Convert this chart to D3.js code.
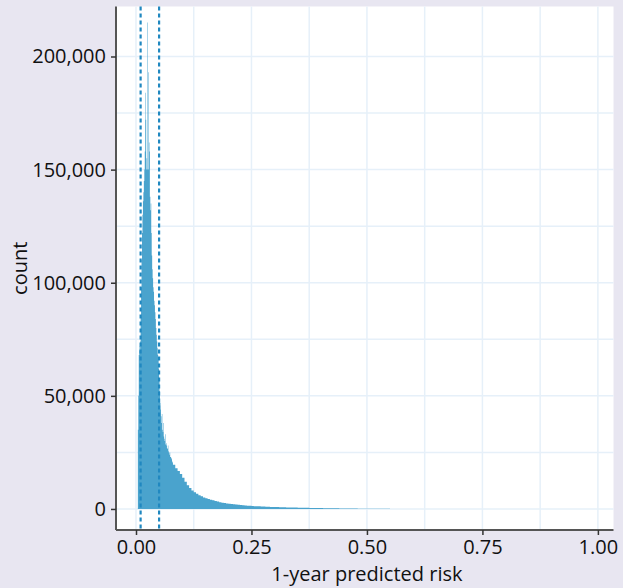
<!DOCTYPE html>
<html>
<meta charset="utf-8">
<style>
  body { margin: 0; background: #e8e6f1; }
  svg { display: block; font-family: "Open Sans", "Noto Sans", sans-serif; }
</style>
<script src="https://d3js.org/d3.v7.min.js"></script>
<body>
<script>
var width = 623, height = 588;

// fine bins, width 0.001, starting at 0.004 (count per bin)
var fineStart = 0.004, fineWidth = 0.001;
var fineCounts = [
  35000, 50000, 68000, 72000, 70000, 74000, 85000, 98000, 110000, 122000,
  130000, 136000, 140000, 145000, 150000, 158000, 184000, 172000, 150000, 155000,
  215000, 150000, 193000, 150000, 162000, 158000, 138000, 132000, 135000, 122000,
  112000, 106000, 102000, 98000, 96000, 92000, 90000, 87000, 84000, 80000,
  77000, 74000, 71000, 68000, 66000, 62000, 57000, 52000, 47000, 44000,
  41000, 38000, 42000, 35000, 34000, 38000, 32000, 31000, 30000, 33000,
  28500, 28000, 29000, 27000, 26500, 28000, 25500, 25000, 24000, 25000,
  23000, 23000, 22000, 22500, 21000, 20500
];

// tail, read in steps of 0.005 from 0.080 (count level per 0.001 bin)
var tailStart = 0.080, tailWidth = 0.005;
var tailCounts = [
  19500, 18000, 16800, 15500, 13800, 12000, 10500, 9300, 8200, 7400,
  6700, 6100, 5600, 5100, 4700, 4400, 4100, 3800, 3500, 3300,
  3000, 2800, 2600, 2450, 2300, 2200, 2050, 1950, 1850, 1750,
  1650, 1550, 1450, 1400, 1300, 1250, 1200, 1150, 1100, 1050,
  1000, 950, 920, 880, 850, 820, 790, 760, 730, 700,
  670, 640, 620, 600, 570, 550, 530, 510, 490, 470,
  450, 430, 410, 400, 380, 360, 350, 330, 320, 300,
  280, 260, 240, 220, 200, 190, 180, 170, 160, 150,
  140, 130, 120, 110, 100, 95, 90, 80, 70, 60,
  55, 50, 45, 40
];

var cutoffs = [0.01, 0.05];
var xTicks = [0, 0.25, 0.5, 0.75, 1];
var xMinor = [0.125, 0.375, 0.625, 0.875];
var yTicks = [0, 50000, 100000, 150000, 200000];
var yMinor = [25000, 75000, 125000, 175000];

var bins = [];
fineCounts.forEach(function(c, i) {
  bins.push({ x0: fineStart + i * fineWidth, x1: fineStart + (i + 1) * fineWidth, count: c });
});
tailCounts.forEach(function(c, i) {
  bins.push({ x0: tailStart + i * tailWidth, x1: tailStart + (i + 1) * tailWidth, count: c });
});

var panel = { left: 116, right: 613.5, top: 6.5, bottom: 530 };

var x = d3.scaleLinear().domain([-0.0433, 1.0338]).range([panel.left, panel.right]);
var y = d3.scaleLinear().domain([-9300, 222100]).range([panel.bottom, panel.top]);

var svg = d3.select("body").append("svg")
  .attr("width", width)
  .attr("height", height);

svg.append("rect")
  .attr("x", panel.left).attr("y", panel.top)
  .attr("width", panel.right - panel.left)
  .attr("height", panel.bottom - panel.top)
  .attr("fill", "#ffffff");

var grid = svg.append("g").attr("stroke", "#e6f0f9").attr("stroke-width", 1.5);
grid.selectAll(".gx").data(xTicks.concat(xMinor)).enter().append("line")
  .attr("x1", function(d) { return x(d); }).attr("x2", function(d) { return x(d); })
  .attr("y1", panel.top).attr("y2", panel.bottom);
grid.selectAll(".gy").data(yTicks.concat(yMinor)).enter().append("line")
  .attr("y1", function(d) { return y(d); }).attr("y2", function(d) { return y(d); })
  .attr("x1", panel.left).attr("x2", panel.right);

// histogram as one stepped area so the thin bins blend like the original
var pts = bins.map(function(b) { return [b.x0, b.count]; });
pts.push([bins[bins.length - 1].x1, 0]);

var area = d3.area()
  .curve(d3.curveStepAfter)
  .x(function(d) { return x(d[0]); })
  .y0(y(0))
  .y1(function(d) { return y(d[1]); });

svg.append("path")
  .datum(pts)
  .attr("d", area)
  .attr("fill", "#4aa3cd");

svg.selectAll(".cut").data(cutoffs).enter().append("line")
  .attr("x1", function(d) { return x(d); }).attr("x2", function(d) { return x(d); })
  .attr("y1", panel.top).attr("y2", panel.bottom)
  .attr("stroke", "#2088c0")
  .attr("stroke-width", 2.2)
  .attr("stroke-dasharray", "4,3");

var xAxis = svg.append("g")
  .attr("transform", "translate(0," + panel.bottom + ")")
  .call(d3.axisBottom(x).tickValues(xTicks).tickFormat(d3.format(".2f")).tickSize(5).tickPadding(5));
var yAxis = svg.append("g")
  .attr("transform", "translate(" + panel.left + ",0)")
  .call(d3.axisLeft(y).tickValues(yTicks).tickFormat(d3.format(",")).tickSize(5).tickPadding(5));

[xAxis, yAxis].forEach(function(a) {
  a.select(".domain").attr("stroke", "#555555").attr("stroke-width", 2);
  a.selectAll(".tick line").attr("stroke", "#333333").attr("stroke-width", 1.5);
  a.selectAll(".tick text").attr("fill", "#111111").style("font-size", "20px").style("font-family", "'Open Sans', sans-serif");
});
xAxis.select(".domain").attr("d", "M" + panel.left + ",0H" + panel.right);
yAxis.select(".domain").attr("d", "M0," + panel.top + "V" + panel.bottom);

svg.append("text")
  .attr("x", x(0.5)).attr("y", 581)
  .attr("text-anchor", "middle")
  .attr("fill", "#111111")
  .style("font-size", "20px")
  .text("1-year predicted risk");

svg.append("text")
  .attr("transform", "translate(27," + (panel.top + panel.bottom) / 2 + ") rotate(-90)")
  .attr("text-anchor", "middle")
  .attr("fill", "#111111")
  .style("font-size", "20px")
  .text("count");
</script>
</body>
</html>
